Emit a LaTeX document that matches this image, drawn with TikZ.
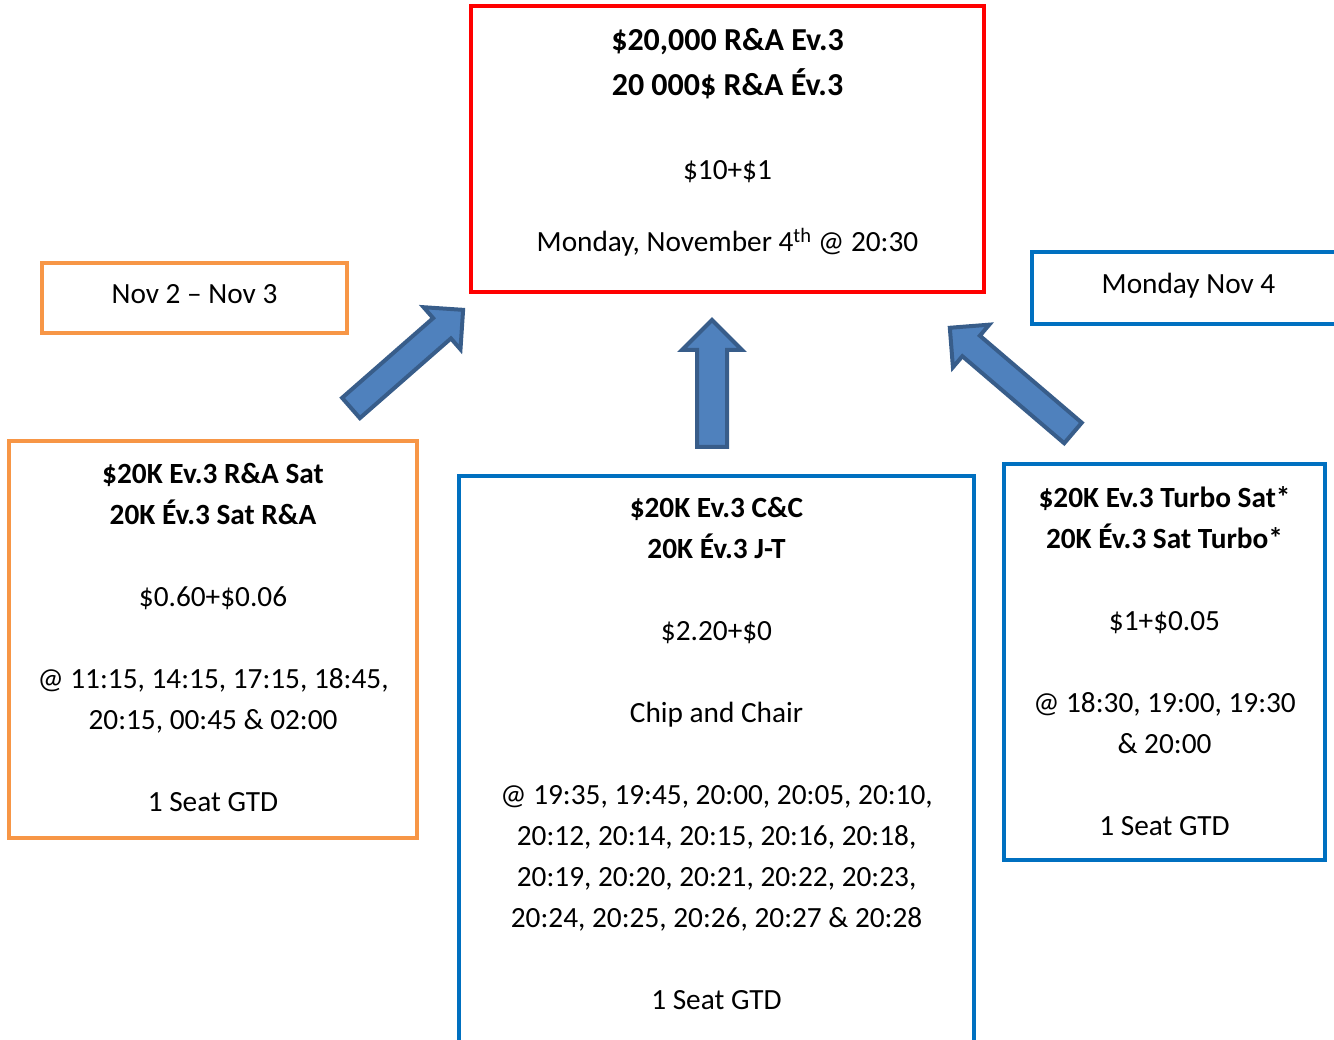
\documentclass[tikz,border=0pt]{standalone}
\usepackage{fontspec}
\setmainfont{Carlito}
\usepackage{tikz}

\definecolor{evred}{HTML}{FF0000}
\definecolor{satorange}{HTML}{F79646}
\definecolor{satblue}{HTML}{0070C0}
\definecolor{arrfill}{HTML}{4F81BD}
\definecolor{arrline}{HTML}{385D8A}

% block arrow: tail point, angle, length, shaft half width, head half width, head length
\newcommand\blockarrow[6]{%
  \begin{scope}[shift={#1},rotate=#2]
    \draw[arrowbody] (0,-#4) -- ({#3-#6},-#4) -- ({#3-#6},-#5) -- (#3,0)
      -- ({#3-#6},#5) -- ({#3-#6},#4) -- (0,#4) -- cycle;
  \end{scope}}
\newcommand\evtitle[1]{{\fontsize{32pt}{41pt}\selectfont\bfseries #1}}

\begin{document}
\begin{tikzpicture}[
        x=1pt, y=1pt,
        box/.style={draw,rectangle,inner sep=0pt,line width=4pt},
        redbox/.style={box,draw=evred},
        orangebox/.style={box,draw=satorange,line width=3.5pt},
        bluebox/.style={box,draw=satblue},
        txt/.style={align=center,inner sep=0pt,font=\fontsize{29.3pt}{41pt}\selectfont},
        arrowbody/.style={fill=arrfill,draw=arrline,line width=4pt,line join=miter}
      ]
      \useasboundingbox (0,0) rectangle (1334,1040);
      \clip (0,0) rectangle (1334,1040);

      % main event
      \node[redbox, minimum width=513pt, minimum height=286pt] (ev) at (727.5,891) {};
      \node[txt, anchor=north] (evtxt) at ([yshift=-24.5pt]ev.north)
        {\evtitle{\$20,000 R\&A Ev.3}\\[4pt]
         \evtitle{20 000\$ R\&A Év.3}\\[43pt]
         \$10+\$1\\[31pt]
         Monday, November 4\textsuperscript{th} @ 20:30};

      % date boxes
      \node[orangebox, minimum width=305pt, minimum height=70pt] (datel) at (194.5,742) {};
      \node[txt, anchor=base] (datetxtl) at ([yshift=-5.5pt]datel.center) {Nov 2 – Nov 3};
      \node[bluebox, minimum width=313pt, minimum height=72pt] (dater) at (1188.5,752) {};
      \node[txt, anchor=base] (datetxtr) at ([yshift=-5.5pt]dater.center) {Monday Nov 4};

      % satellites
      \node[orangebox, minimum width=408pt, minimum height=397pt] (sat) at (213,400.5) {};
      \node[txt, anchor=north] (sattxt) at ([yshift=-24pt]sat.north)
        {\textbf{\$20K Ev.3 R\&A Sat}\\
         \textbf{20K Év.3 Sat R\&A}\\[41pt]
         \$0.60+\$0.06\\[41pt]
         @ 11:15, 14:15, 17:15, 18:45,\\
         20:15, 00:45 \& 02:00\\[41pt]
         1 Seat GTD};

      \node[bluebox, minimum width=515pt, minimum height=584pt] (cc) at (716.5,272) {};
      \node[txt, anchor=north] (cctxt) at ([yshift=-23pt]cc.north)
        {\textbf{\$20K Ev.3 C\&C}\\
         \textbf{20K Év.3 J-T}\\[41pt]
         \$2.20+\$0\\[41pt]
         Chip and Chair\\[41pt]
         @ 19:35, 19:45, 20:00, 20:05, 20:10,\\
         20:12, 20:14, 20:15, 20:16, 20:18,\\
         20:19, 20:20, 20:21, 20:22, 20:23,\\
         20:24, 20:25, 20:26, 20:27 \& 20:28\\[41pt]
         1 Seat GTD};

      \node[bluebox, minimum width=321pt, minimum height=396pt] (turbo) at (1164.5,378) {};
      \node[txt, anchor=north] (turbotxt) at ([yshift=-24pt]turbo.north)
        {\textbf{\$20K Ev.3 Turbo Sat*}\\
         \textbf{20K Év.3 Sat Turbo*}\\[41pt]
         \$1+\$0.05\\[41pt]
         @ 18:30, 19:00, 19:30\\
         \& 20:00\\[41pt]
         1 Seat GTD};

      % arrows up to the main event
      \blockarrow{(351,632)}{41.2}{149}{13.5}{28}{28}
      \blockarrow{(712,593)}{90}{127}{15}{30}{30}
      \blockarrow{(1073,607)}{139.5}{162}{13.5}{28}{28}

    \end{tikzpicture}
\end{document}
